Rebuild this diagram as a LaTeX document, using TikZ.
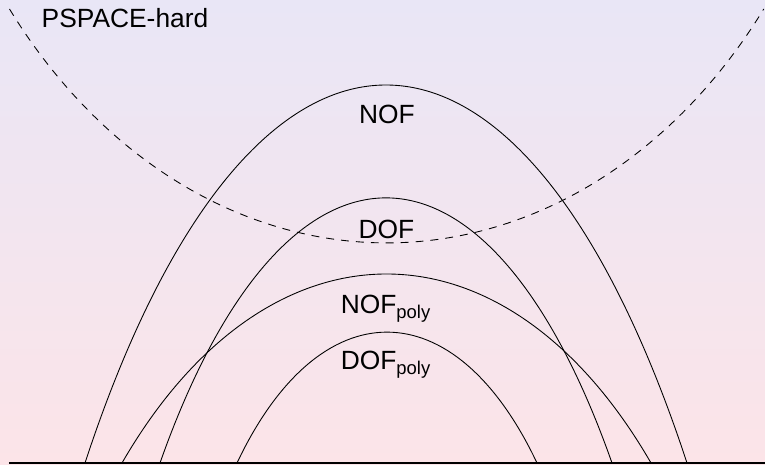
\documentclass[tikz,border=0pt]{standalone}
\usepackage{fontspec}
\setmainfont{Liberation Sans}
\usepackage{tikz}
\usetikzlibrary{positioning}
\definecolor{bgtop}{RGB}{233,230,246}
\definecolor{bgbottom}{RGB}{252,228,232}
\begin{document}
\begin{tikzpicture}[
  every node/.style={font=\fontsize{15}{18}\selectfont,inner sep=0pt},
  class/.style={draw=black,line width=0.5pt},
  hard/.style={draw=black,line width=0.5pt,dash pattern=on 4.5pt off 4pt}
]
  % 背景
  \useasboundingbox (0,-0.04) rectangle (15.3,9.26);
  \shade[top color=bgtop,bottom color=bgbottom]
    (0,-0.04) rectangle (15.3,9.26);

  % 下の線
  \draw[line width=1.2pt] (0.18,0) -- (15.3,0);

  % 計算量クラス
  \draw[class]
    (1.70,0) .. controls (5.01,10.08) and (10.43,10.08) .. (13.74,0);
  \draw[class]
    (3.20,0) .. controls (5.69,7.07) and (9.75,7.07) .. (12.24,0);
  \draw[class]
    (2.44,0) .. controls (5.35,5.04) and (10.11,5.04) .. (13.02,0);
  \draw[class]
    (4.74,0) .. controls (6.39,3.49) and (9.09,3.49) .. (10.74,0);

  % PSPACE-hard の境界
  \draw[hard]
    (0.19,9.08) arc[start angle=217.6,end angle=322.4,
                    x radius=9.52,y radius=12];

  % ラベル
  \node[anchor=base] (pspace) at (2.5,8.71) {PSPACE-hard};
  \node[anchor=base] (nof) at (7.74,6.78) {NOF};
  \node[anchor=base] (dof) at (7.73,4.49) {DOF};
  \node[anchor=base] (nofpoly) at (7.72,2.99) {NOF\textsubscript{poly}};
  \node[anchor=base] (dofpoly) at (7.72,1.86) {DOF\textsubscript{poly}};
\end{tikzpicture}
\end{document}
